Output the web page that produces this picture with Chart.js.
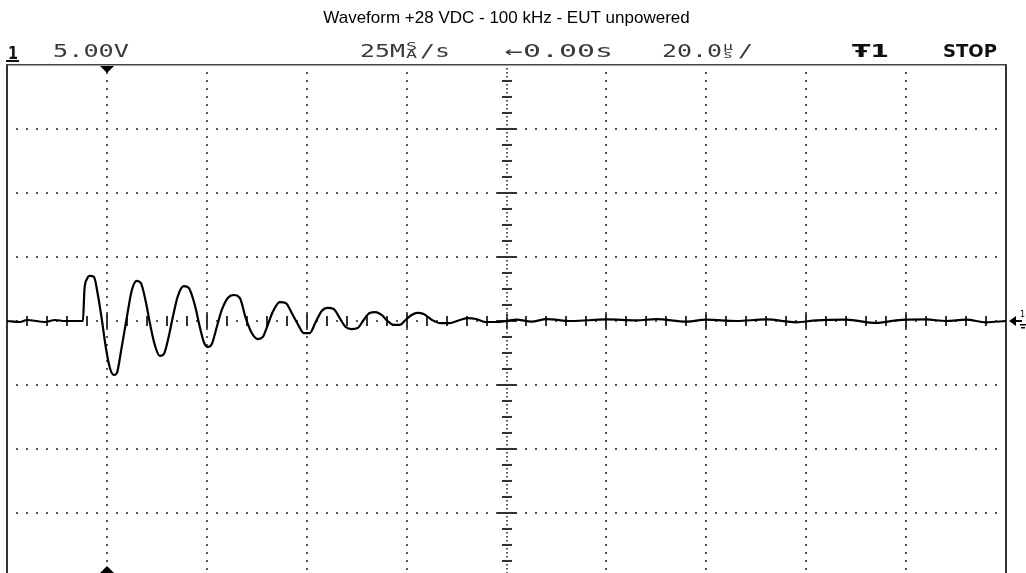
<!DOCTYPE html>
<html>
<head>
<meta charset="utf-8">
<script src="https://cdn.jsdelivr.net/npm/chart.js@4.4.1/dist/chart.umd.min.js"></script>
<style>
html,body{margin:0;padding:0;background:#fff;}
#wrap{width:1026px;height:573px;}
</style>
</head>
<body>
<div id="wrap"><canvas id="c" width="1026" height="573"></canvas></div>
<script>
// ---- data (time in µs, voltage in V) ----
const timeUs = [-100,-97.4,-96.0,-92.4,-90.4,-88.4,-86.4,-84.8,-84.5,-84.0,-83.4,-82.6,-81.8,-81.0,-80.2,-79.4,-78.6,-78.0,-77.2,-76.0,-75.0,-74.0,-73.2,-72.2,-71.4,-70.4,-69.4,-68.6,-67.6,-66.8,-65.8,-64.6,-63.6,-62.4,-61.4,-60.6,-59.8,-59.0,-58.0,-57.0,-55.8,-54.6,-53.4,-52.2,-51.0,-49.8,-48.8,-47.8,-46.8,-45.4,-44.2,-43.0,-41.8,-40.6,-39.4,-38.2,-37.0,-35.8,-34.6,-33.4,-32.2,-31.0,-29.8,-28.6,-27.4,-26.2,-25.0,-23.8,-22.6,-21.4,-20.2,-19.0,-17.8,-16.6,-14.9,-13.3,-11.3,-9.3,-7.7,-6.1,-4.1,-2.1,0,2,5,8,13,20,26,30,36,40,46,52,58,62,68,74,78,84,88,92,96,100];
const voltsV = [0,-0.08,0.08,-0.08,0.08,0,0,0,2.42,3.28,3.52,3.44,2.03,0.08,-2.11,-3.67,-4.22,-4.06,-2.42,0.31,2.42,3.13,2.97,1.48,-0.16,-1.88,-2.73,-2.58,-1.17,0.31,1.95,2.73,2.58,1.25,-0.47,-1.64,-2.03,-1.80,-0.47,0.86,1.80,2.03,1.80,0.23,-0.94,-1.41,-1.25,-0.31,0.70,1.48,1.41,0.63,-0.23,-0.94,-0.94,-0.08,0.78,1.02,0.94,0.23,-0.47,-0.63,-0.55,0.08,0.63,0.70,0.47,0,-0.31,-0.31,0.08,0.47,0.63,0.55,0.08,-0.16,-0.16,0.08,0.23,0.16,-0.08,-0.08,0,0.1,-0.05,0.15,0,0.12,0.05,0.15,-0.05,0.1,0,0.12,-0.1,0.05,0.1,-0.15,0.05,0.12,0,0.1,-0.1,0];
const gridTimes = [-80,-60,-40,-20,20,40,60,80];
const gridVolts = [15,10,5,-5,-10,-15];
const titleText = 'Waveform +28 VDC - 100 kHz - EUT unpowered';
const headerTexts = ['1','5.00V','25M','S','A','/s','\u21900.00s','20.0','\u00B5','s','/','\u01661','STOP'];

const points = timeUs.map((t,i)=>({x:t,y:voltsV[i]}));

function stretchText(ctx, txt, x, yBase, w, font){
  ctx.save();
  ctx.font = font;
  const m = ctx.measureText(txt).width;
  ctx.translate(x, yBase);
  ctx.scale(w/m, 1);
  ctx.fillText(txt, 0, 0);
  ctx.restore();
}

const scopePlugin = {
  id:'scope',
  beforeDatasetsDraw(chart){
    const ctx = chart.ctx, a = chart.chartArea;
    const xs = chart.scales.x, ys = chart.scales.y;
    ctx.save();
    ctx.fillStyle = '#555';
    gridVolts.forEach(v=>{
      const y = Math.round(ys.getPixelForValue(v));
      for(let t=-98;t<=98;t+=2){
        const x = Math.round(xs.getPixelForValue(t));
        ctx.fillRect(x-1,y-1,2,2);
      }
    });
    gridTimes.forEach(t=>{
      const x = Math.round(xs.getPixelForValue(t));
      for(let v=20-0.625;v>=-19.7;v-=0.625){
        const y = Math.round(ys.getPixelForValue(v));
        ctx.fillRect(x-1,y-1,2,2);
      }
    });
    const y0 = Math.round(ys.getPixelForValue(0));
    for(let t=-98;t<=98;t+=2){
      const x = Math.round(xs.getPixelForValue(t));
      ctx.fillRect(x-1,y0-1,2,2);
    }
    ctx.fillStyle = '#333';
    for(let t=-96;t<=96;t+=4){
      const x = Math.round(xs.getPixelForValue(t));
      const h = (t%20===0)?7:5;
      ctx.fillRect(x-1,y0-h,2,2*h);
    }
    const x0 = Math.round(xs.getPixelForValue(0));
    ctx.fillStyle = '#555';
    for(let v=20-0.3125;v>=-19.7;v-=0.3125){
      const y = Math.round(ys.getPixelForValue(v));
      ctx.fillRect(x0-1,y-1,2,1.5);
    }
    ctx.fillStyle = '#333';
    for(let v=20-1.25;v>=-19.7;v-=1.25){
      const y = Math.round(ys.getPixelForValue(v));
      const major = Math.abs(v/5-Math.round(v/5))<1e-6;
      const w = major?10:5;
      ctx.fillRect(x0-w,y-1,2*w,2);
    }
    ctx.fillStyle = '#333';
    ctx.fillRect(Math.round(a.left)-1, Math.round(a.top)-1, 2, a.bottom-a.top+2);
    ctx.fillRect(Math.round(a.right)-1, Math.round(a.top)-1, 2, a.bottom-a.top+2);
    ctx.fillStyle = '#444';
    ctx.fillRect(Math.round(a.left)-1, Math.round(a.top)-1, a.right-a.left+2, 1.5);
    ctx.restore();
  },
  afterDraw(chart){
    const ctx = chart.ctx, a = chart.chartArea;
    const xs = chart.scales.x, ys = chart.scales.y;
    ctx.save();
    ctx.fillStyle = '#000';
    const xm = Math.round(xs.getPixelForValue(-80));
    ctx.beginPath();
    ctx.moveTo(xm-7, a.top+1); ctx.lineTo(xm+7, a.top+1); ctx.lineTo(xm, a.top+8); ctx.closePath(); ctx.fill();
    ctx.beginPath();
    ctx.moveTo(xm-7, a.bottom); ctx.lineTo(xm+7, a.bottom); ctx.lineTo(xm, a.bottom-7); ctx.closePath(); ctx.fill();
    const y0 = ys.getPixelForValue(0);
    ctx.beginPath();
    ctx.moveTo(a.right+3, y0); ctx.lineTo(a.right+10, y0-5); ctx.lineTo(a.right+10, y0+5); ctx.closePath(); ctx.fill();
    ctx.fillRect(a.right+10, y0-1, 6, 2);
    ctx.fillRect(a.right+14, y0+3, 6, 1.5);
    ctx.fillRect(a.right+15, y0+6, 4, 1.5);
    ctx.font = '8px "DejaVu Sans"';
    ctx.fillText('1', a.right+14, y0-4);

    const by = 57;
    const thin = '18px "DejaVu Sans Mono"';
    const bold = 'bold 18px "DejaVu Sans"';
    const small = '10px "DejaVu Sans Mono"';
    ctx.fillStyle = '#111';
    stretchText(ctx, headerTexts[0], 8, by+2, 10, bold);
    ctx.fillRect(6, by+3, 13, 2);
    ctx.fillStyle = '#3a3a3a';
    stretchText(ctx, headerTexts[1], 53, by, 76, thin);
    stretchText(ctx, headerTexts[2], 360, by, 45, thin);
    stretchText(ctx, headerTexts[3], 406, by-7, 11, small);
    stretchText(ctx, headerTexts[4], 406, by+1, 11, small);
    stretchText(ctx, headerTexts[5], 420, by, 30, thin);
    stretchText(ctx, headerTexts[6], 505, by, 108, thin);
    stretchText(ctx, headerTexts[7], 662, by, 60, thin);
    stretchText(ctx, headerTexts[8], 723, by-7, 10, small);
    stretchText(ctx, headerTexts[9], 723, by+1, 10, small);
    stretchText(ctx, headerTexts[10], 738, by, 15, thin);
    ctx.fillStyle = '#111';
    stretchText(ctx, headerTexts[11], 852, by, 37, bold);
    stretchText(ctx, headerTexts[12], 943, by, 54, bold);
    ctx.restore();
  }
};

new Chart(document.getElementById('c'), {
  type:'line',
  data:{datasets:[{
    data: points,
    borderColor:'#000',
    borderWidth:2.2,
    pointRadius:0,
    cubicInterpolationMode:'monotone',
    fill:false
  }]},
  options:{
    responsive:false,
    devicePixelRatio:1,
    animation:false,
    layout:{padding:{left:7,right:20,top:0,bottom:0}},
    scales:{
      x:{type:'linear',min:-100,max:100,display:false},
      y:{type:'linear',min:-19.6875,max:20,display:false}
    },
    plugins:{
      legend:{display:false},
      tooltip:{enabled:false},
      title:{
        display:true,
        text:titleText,
        color:'#000',
        font:{family:'"Liberation Sans", Arial, sans-serif',size:17,weight:'normal',lineHeight:1.2},
        padding:{top:8,bottom:36.6}
      }
    }
  },
  plugins:[scopePlugin]
});
</script>
</body>
</html>
